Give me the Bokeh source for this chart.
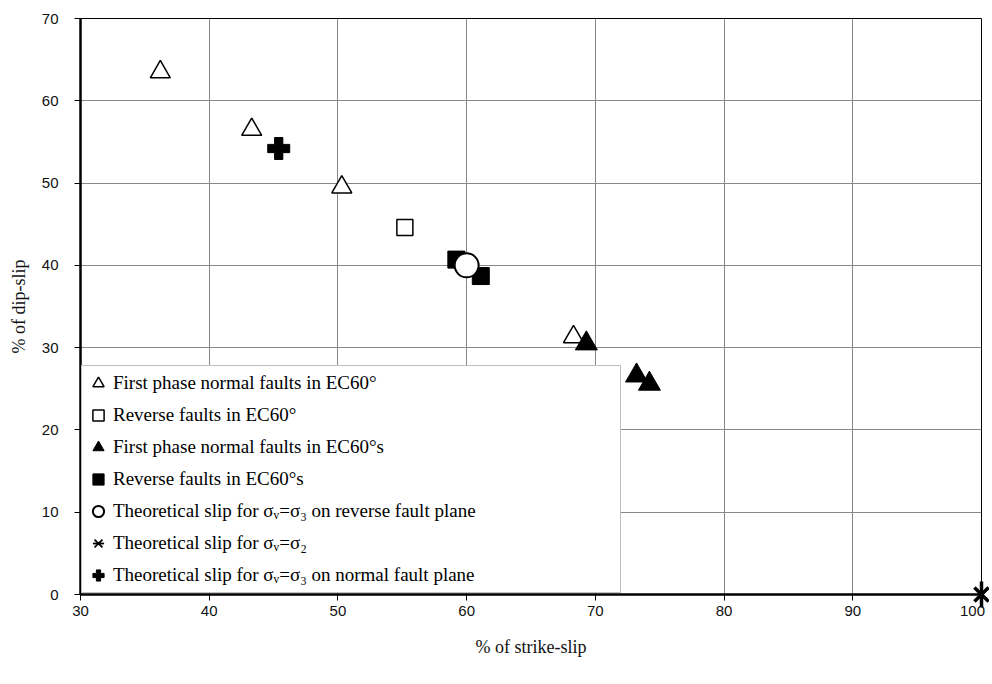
from bokeh.plotting import figure
from bokeh.models import Range1d, FixedTicker, Legend, LegendItem, ColumnDataSource
from bokeh.core.properties import value
from bokeh.embed import file_html
from bokeh.resources import INLINE

# ---- data ----
open_tri_x = [36.2, 43.3, 50.3, 68.3]
open_tri_y = [63.5, 56.5, 49.5, 31.3]
open_sq_x = [55.2]
open_sq_y = [44.6]
fill_tri_x = [69.3, 73.2, 74.2]
fill_tri_y = [30.5, 26.6, 25.6]
fill_sq_x = [59.2, 61.1]
fill_sq_y = [40.7, 38.7]
theo_rev_x = [60.0]
theo_rev_y = [40.0]
theo_s2_x = [100.0]
theo_s2_y = [0.0]
theo_norm_x = [45.4]
theo_norm_y = [54.2]

x_ticks = [30, 40, 50, 60, 70, 80, 90, 100]
y_ticks = [0, 10, 20, 30, 40, 50, 60, 70]

labels = [
    "First phase normal faults in EC60°",
    "Reverse faults in EC60°",
    "First phase normal faults in EC60°s",
    "Reverse faults in EC60°s",
    "Theoretical slip for σᵥ=σ₃ on reverse fault plane",
    "Theoretical slip for σᵥ=σ₂",
    "Theoretical slip for σᵥ=σ₃ on normal fault plane",
]

p = figure(frame_width=901, frame_height=576, output_backend="svg", toolbar_location=None,
           x_range=Range1d(30, 100), y_range=Range1d(0, 70),
           min_border_left=80, min_border_right=8, min_border_top=18, min_border_bottom=74)

p.background_fill_color = "white"
p.border_fill_color = "white"
p.outline_line_color = "black"
p.outline_line_width = 1

for ax in (p.xaxis[0], p.yaxis[0]):
    ax.axis_line_color = "black"
    ax.axis_line_width = 2.5
    ax.major_tick_line_color = "black"
    ax.major_tick_out = 6
    ax.major_tick_in = 0
    ax.minor_tick_line_color = None
    ax.major_label_text_font = "Liberation Sans"
    ax.major_label_text_font_size = "15px"
    ax.major_label_text_color = "#111111"
    ax.axis_label_text_font = "Liberation Serif"
    ax.axis_label_text_font_size = "18px"
    ax.axis_label_text_font_style = "normal"
    ax.axis_label_text_color = "#111111"

p.xaxis.ticker = FixedTicker(ticks=x_ticks)
p.yaxis.ticker = FixedTicker(ticks=y_ticks)
p.xaxis.major_label_overrides = {t: "" for t in x_ticks}
p.xaxis.axis_label = "% of strike-slip"
p.yaxis.axis_label = "% of dip-slip"
p.yaxis.major_label_standoff = 16
p.xaxis.axis_label_standoff = 36
p.yaxis.axis_label_standoff = 10

# x tick labels drawn as text (last one nudged inward, as in the reference)
tick_src = ColumnDataSource(dict(
    x=x_ticks, y=[0] * len(x_ticks), text=[str(t) for t in x_ticks],
    xo=[(-9 if t == x_ticks[-1] else 0) for t in x_ticks]))
p.text(x="x", y="y", text="text", x_offset="xo", y_offset=11, source=tick_src,
       text_align="center", text_baseline="top", text_font=value("Liberation Sans"),
       text_font_size="15px", text_color="#111111", level="overlay")

p.xgrid.ticker = FixedTicker(ticks=x_ticks)
p.ygrid.ticker = FixedTicker(ticks=y_ticks)
p.grid.grid_line_color = "#888888"
p.grid.grid_line_width = 1

r1 = p.scatter(open_tri_x, open_tri_y, marker="triangle", size=20,
               fill_color="white", line_color="black", line_width=1.5)
r2 = p.scatter(open_sq_x, open_sq_y, marker="square", size=16,
               fill_color="white", line_color="black", line_width=1.5)
r3 = p.scatter(fill_tri_x, fill_tri_y, marker="triangle", size=22,
               fill_color="black", line_color="black", line_width=1)
r4 = p.scatter(fill_sq_x, fill_sq_y, marker="square", size=17,
               fill_color="black", line_color="black", line_width=1)
r5 = p.scatter(theo_rev_x, theo_rev_y, marker="circle", size=24,
               fill_color="white", line_color="black", line_width=2)
# thin version (used as the legend key), hidden under the bold one
l6a = p.scatter(theo_s2_x, theo_s2_y, marker="x", size=10, line_color="black", line_width=1.8)
l6b = p.scatter(theo_s2_x, theo_s2_y, marker="dash", angle=1.5708, size=12,
                line_color="black", line_width=1.8)
r6a = p.scatter(theo_s2_x, theo_s2_y, marker="x", size=20,
                line_color="black", line_width=3.5, level="overlay")
r6b = p.scatter(theo_s2_x, theo_s2_y, marker="dash", angle=1.5708, size=26,
                line_color="black", line_width=3.5, level="overlay")
r7 = p.scatter(theo_norm_x, theo_norm_y, marker="plus", size=22,
               fill_color="black", line_color="black", line_width=1)

rend_groups = [[r1], [r2], [r3], [r4], [r5], [l6a, l6b], [r7]]
legend = Legend(items=[LegendItem(label=lab, renderers=rs) for lab, rs in zip(labels, rend_groups)],
                location=(1, 1))
legend.label_text_font = "Liberation Serif"
legend.label_text_font_size = "19px"
legend.label_text_color = "black"
legend.glyph_width = 28
legend.glyph_height = 30
legend.label_height = 24
legend.spacing = 2
legend.padding = 2
legend.margin = 0
legend.label_standoff = 1
legend.label_width = 505
legend.border_line_color = "#808080"
legend.border_line_width = 1
legend.background_fill_alpha = 1
legend.background_fill_color = "white"
p.add_layout(legend, "center")

open("out.html", "w").write(file_html(p, INLINE))
